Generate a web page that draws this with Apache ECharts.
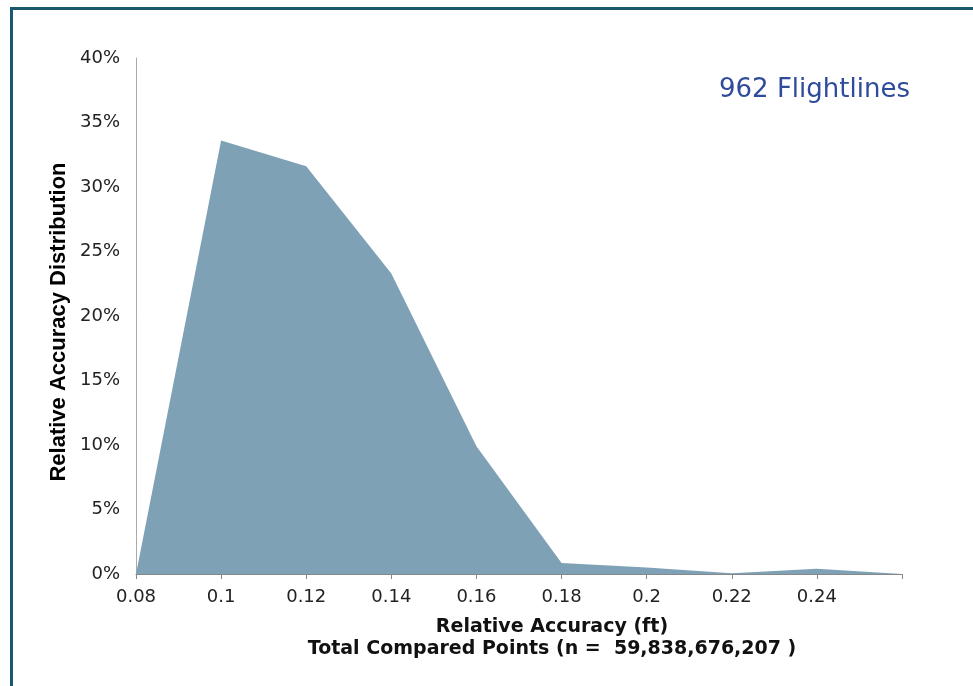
<!DOCTYPE html>
<html><head><meta charset="utf-8">
<script src="https://cdn.jsdelivr.net/npm/echarts@6/dist/echarts.min.js"></script>
<style>html,body{margin:0;padding:0;background:#fff}#c{width:973px;height:686px}</style>
</head><body><div id="c"></div>
<script>
const categories = ['0.08','0.1','0.12','0.14','0.16','0.18','0.2','0.22','0.24','0.26'];
const tickLabels = ['0.08','0.1','0.12','0.14','0.16','0.18','0.2','0.22','0.24',''];
const distribution = [0, 33.6, 31.6, 23.3, 9.9, 0.85, 0.5, 0.05, 0.4, 0];
const annotation = '962 Flightlines';
const xTitle = 'Relative Accuracy (ft)\nTotal Compared Points (n =  59,838,676,207 )';
const yTitle = 'Relative Accuracy Distribution';

const chart = echarts.init(document.getElementById('c'));
chart.setOption({
  animation: false,
  grid: {left: 136, right: 71, top: 58, bottom: 112},
  graphic: [
    {type: 'rect', shape: {x: 11.5, y: 8.5, width: 1000, height: 1000},
     style: {fill: 'none', stroke: '#1a5870', lineWidth: 3}},
    {type: 'text', left: 719, top: 77,
     style: {text: annotation, fill: '#2f4c9b', font: '400 26px "DejaVu Sans", sans-serif'}},
    {type: 'text', x: 552, y: 638,
     style: {text: xTitle, fill: '#111', align: 'center', verticalAlign: 'middle',
       font: 'bold 19px "DejaVu Sans", sans-serif', lineHeight: 22}},
    {type: 'text', x: 59, y: 322, rotation: Math.PI / 2,
     style: {text: yTitle, fill: '#000', align: 'center', verticalAlign: 'middle',
       font: 'bold 22px "Liberation Sans", Arial, sans-serif'}}
  ],
  xAxis: {
    type: 'category', boundaryGap: false, data: categories,
    axisLine: {lineStyle: {color: '#888', width: 1}},
    axisTick: {show: true, length: 5, lineStyle: {color: '#888'}},
    axisLabel: {color: '#222', fontSize: 18, fontFamily: 'DejaVu Sans', margin: 14, interval: 0,
      formatter: (v, i) => tickLabels[i]}
  },
  yAxis: {
    type: 'value', min: 0, max: 40, interval: 5,
    axisLine: {show: true, lineStyle: {color: '#aaa'}},
    axisTick: {show: false},
    splitLine: {show: false},
    axisLabel: {color: '#222', fontSize: 18, fontFamily: 'DejaVu Sans', margin: 16, formatter: v => v + '%'}
  },
  series: [{
    type: 'line', data: distribution, symbol: 'none',
    lineStyle: {width: 0}, areaStyle: {color: '#7fa1b6', opacity: 1}
  }]
});
</script></body></html>
